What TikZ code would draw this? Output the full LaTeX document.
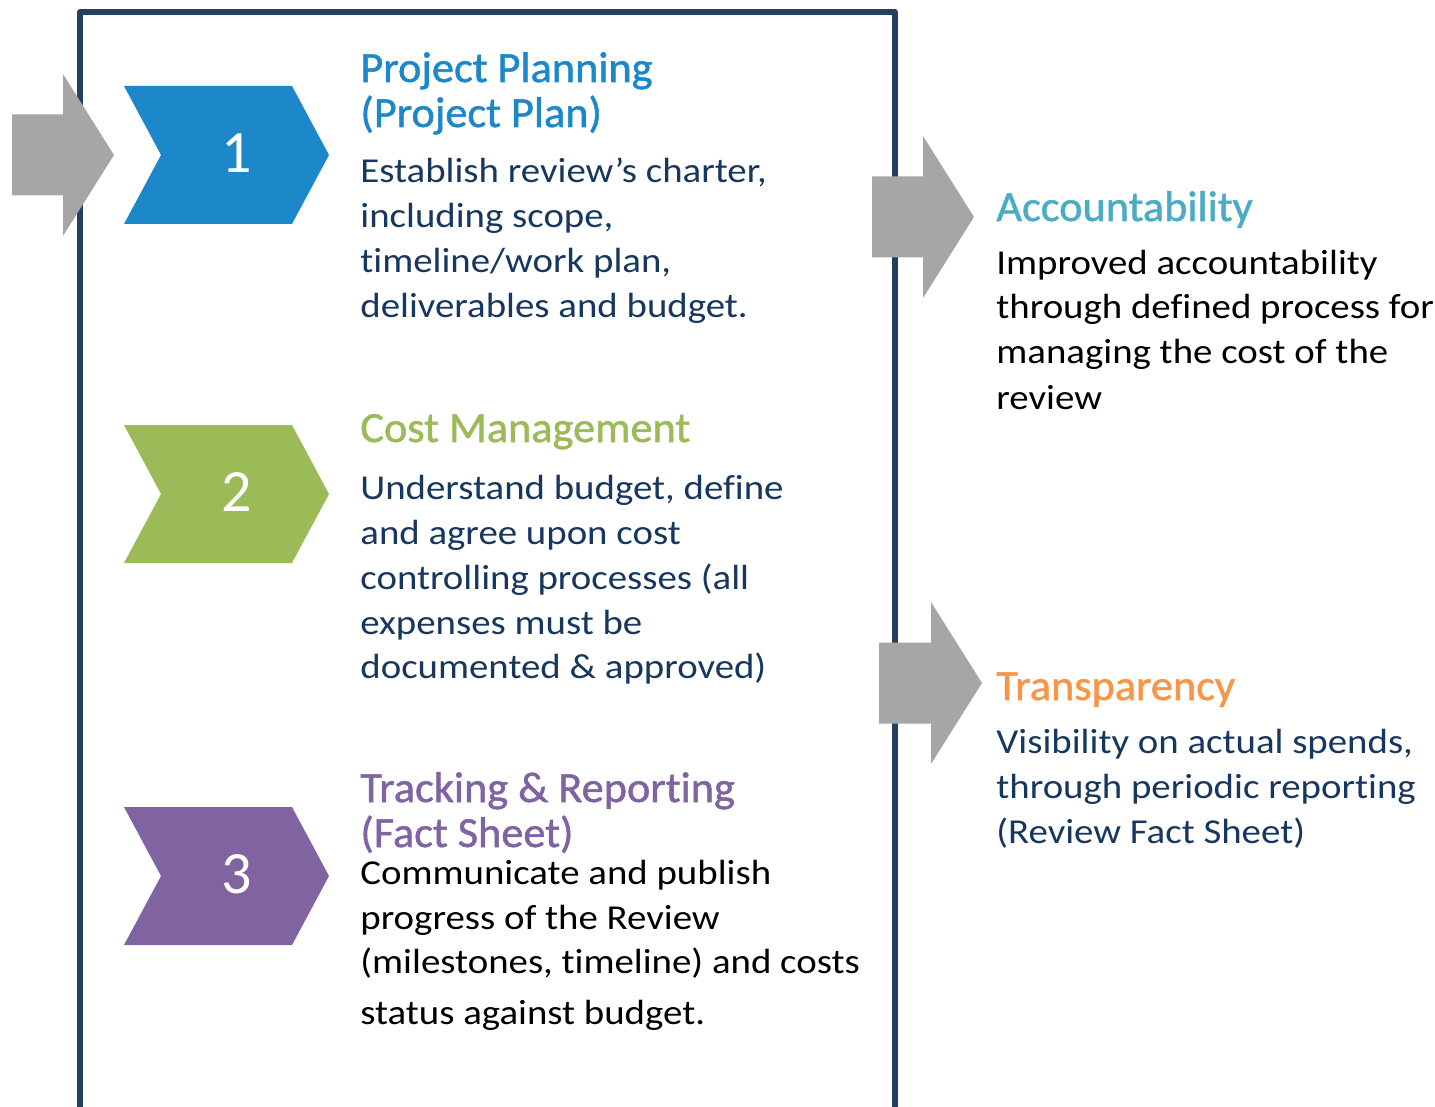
\documentclass[tikz,border=0pt]{standalone}
\usepackage{fontspec}
\setmainfont{Carlito}[Ligatures=NoCommon]
\newfontfamily\bodyfont{Carlito}[FakeStretch=1.11,Ligatures=NoCommon]
\newfontfamily\titlefont{Carlito}[FakeStretch=1.03,FakeBold=1.2,Ligatures=NoCommon]
\definecolor{cblue}{HTML}{1C87C9}
\definecolor{cgreen}{HTML}{9BBB59}
\definecolor{cpurple}{HTML}{8064A2}
\definecolor{cteal}{HTML}{4BACC6}
\definecolor{corange}{HTML}{F79646}
\definecolor{cnavy}{HTML}{17375E}
\definecolor{cborder}{HTML}{243F60}
\definecolor{cgray}{HTML}{A6A6A6}
\tikzset{
  ttl/.style={anchor=base west,inner sep=0pt,font=\titlefont\fontsize{21.5}{22}\selectfont},
  bdy/.style={anchor=base west,inner sep=0pt,font=\bodyfont\fontsize{17.5}{22.5}\selectfont},
  num/.style={text=white,inner sep=0pt,font=\fontsize{30}{30}\selectfont},
  boxline/.style={draw=cborder,line width=2.6pt,line join=round}
}
\newcommand\grayarrow[4]{% x0, xh, xt, yc
  \fill[cgray] (#1,#4-40.5) -- (#2,#4-40.5) -- (#2,#4-81) -- (#3,#4) -- (#2,#4+81) -- (#2,#4+40.5) -- (#1,#4+40.5) -- cycle;}
\newcommand\chevron[2]{% colour, yc
  \fill[#1] (124,#2-69) -- (292,#2-69) -- (329,#2) -- (292,#2+69) -- (124,#2+69) -- (161,#2) -- cycle;}
\begin{document}
\begin{tikzpicture}[x=0.5pt,y=-0.5pt]
\useasboundingbox (0,0) rectangle (1435,1107);
\begin{scope}
\clip (0,0) rectangle (1435,1107);
\draw[boxline] (80,1130) -- (80,12) -- (895,12) -- (895,1130);
\end{scope}
% chevrons
\chevron{cblue}{155}
\chevron{cgreen}{494}
\chevron{cpurple}{876}
\node[num] (n1) at (237,153) {1};
\node[num] (n2) at (237,492) {2};
\node[num] (n3) at (237,874) {3};
% gray arrows
\grayarrow{12}{63}{114}{155}
\grayarrow{872}{923}{974}{217}
\grayarrow{879}{931}{982}{683}
% section 1
\node[ttl,text=cblue] (t1a) at (360,82) {Project Planning};
\node[ttl,text=cblue] (t1b) at (360,127) {(Project Plan)};
\node[bdy,text=cnavy] (b1a) at (360,183) {Establish review’s charter,};
\node[bdy,text=cnavy] (b1b) at (360,228) {including scope,};
\node[bdy,text=cnavy] (b1c) at (360,273) {timeline/work plan,};
\node[bdy,text=cnavy] (b1d) at (360,318) {deliverables and budget.};
% section 2
\node[ttl,text=cgreen] (t2a) at (360,442) {Cost Management};
\node[bdy,text=cnavy] (b2a) at (360,499) {Understand budget, define};
\node[bdy,text=cnavy] (b2b) at (360,544) {and agree upon cost};
\node[bdy,text=cnavy] (b2c) at (360,589) {controlling processes (all};
\node[bdy,text=cnavy] (b2d) at (360,634) {expenses must be};
\node[bdy,text=cnavy] (b2e) at (360,678) {documented \& approved)};
% section 3
\node[ttl,text=cpurple] (t3a) at (360,802) {Tracking \& Reporting};
\node[ttl,text=cpurple] (t3b) at (360,847) {(Fact Sheet)};
\node[bdy,text=black] (b3a) at (360,884) {Communicate and publish};
\node[bdy,text=black] (b3b) at (360,929) {progress of the Review};
\node[bdy,text=black] (b3c) at (360,973) {(milestones, timeline) and costs};
\node[bdy,text=black] (b3d) at (360,1024) {status against budget.};
% accountability
\node[ttl,text=cteal] (ta) at (996,221) {Accountability};
\node[bdy,text=black] (ba1) at (996,275) {Improved accountability};
\node[bdy,text=black] (ba2) at (996,319) {through defined process for};
\node[bdy,text=black] (ba3) at (996,364) {managing the cost of the};
\node[bdy,text=black] (ba4) at (996,409) {review};
% transparency
\node[ttl,text=corange] (tt) at (996,700) {Transparency};
\node[bdy,text=cnavy] (bt1) at (996,753) {Visibility on actual spends,};
\node[bdy,text=cnavy] (bt2) at (996,798) {through periodic reporting};
\node[bdy,text=cnavy] (bt3) at (996,843) {(Review Fact Sheet)};
\end{tikzpicture}
\end{document}
